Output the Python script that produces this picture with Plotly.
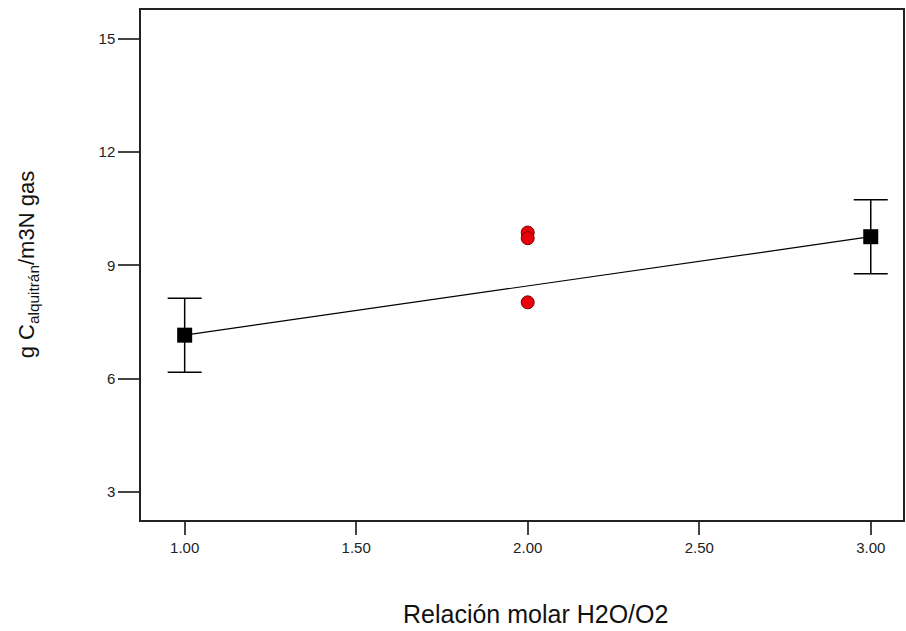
import plotly.graph_objects as go

# Data
ratio_means = [1.0, 3.0]
tar_means = [7.15, 9.76]
tar_err = [0.98, 0.98]
ratio_points = [2.0, 2.0, 2.0]
tar_points = [9.87, 9.72, 8.02]
x_ticks = [1.0, 1.5, 2.0, 2.5, 3.0]
x_tick_labels = ["1.00", "1.50", "2.00", "2.50", "3.00"]
y_ticks = [3, 6, 9, 12, 15]

fig = go.Figure()

# Fitted line
fig.add_trace(go.Scatter(
    x=ratio_means, y=tar_means, mode="lines",
    line=dict(color="black", width=1.2), showlegend=False, hoverinfo="skip"))

# Means with error bars
fig.add_trace(go.Scatter(
    x=ratio_means, y=tar_means, mode="markers",
    marker=dict(symbol="square", size=15, color="black"),
    error_y=dict(type="data", array=tar_err, visible=True,
                 color="black", thickness=1.5, width=17),
    showlegend=False))

# Design points
fig.add_trace(go.Scatter(
    x=ratio_points, y=tar_points, mode="markers",
    marker=dict(symbol="circle", size=13, color="#e8000b",
                line=dict(color="#7a0000", width=1)),
    showlegend=False))

axis_font = dict(family="Arial, Liberation Sans, sans-serif", size=15, color="#222222")
title_family = "Arial, Liberation Sans, sans-serif"

fig.update_layout(
    width=906, height=631,
    margin=dict(l=141, r=1, t=10, b=111),
    plot_bgcolor="white", paper_bgcolor="white",
    xaxis=dict(range=[0.8727, 3.094], tickvals=x_ticks, ticktext=x_tick_labels,
               showgrid=False, zeroline=False, showline=True, linecolor="#222222",
               linewidth=1.5, mirror=True, ticks="outside", ticklen=13,
               tickcolor="#444444", tickwidth=1.5, tickfont=axis_font),
    yaxis=dict(range=[2.25, 15.77], tickvals=y_ticks,
               showgrid=False, zeroline=False, showline=True, linecolor="#222222",
               linewidth=1.5, mirror=True, ticks="outside", ticklen=21,
               tickcolor="#444444", tickwidth=1.5, tickfont=axis_font),
    annotations=[
        dict(text="Relación molar H2O/O2", xref="paper", yref="paper",
             x=(537 - 141) / 764, y=-(614 - 520) / 510, xanchor="center", yanchor="middle",
             showarrow=False,
             font=dict(family=title_family, size=25, color="#111111")),
        dict(text="g C<sub>alquitrán</sub>/m3N gas", xref="paper", yref="paper",
             x=-(141 - 28) / 764, y=0.5, xanchor="center", yanchor="middle",
             textangle=-90, showarrow=False,
             font=dict(family=title_family, size=22, color="#111111")),
    ],
)

fig.write_html("out.html", config={"displayModeBar": False},
               post_script="document.body.style.margin='0';document.body.style.overflow='hidden';")
